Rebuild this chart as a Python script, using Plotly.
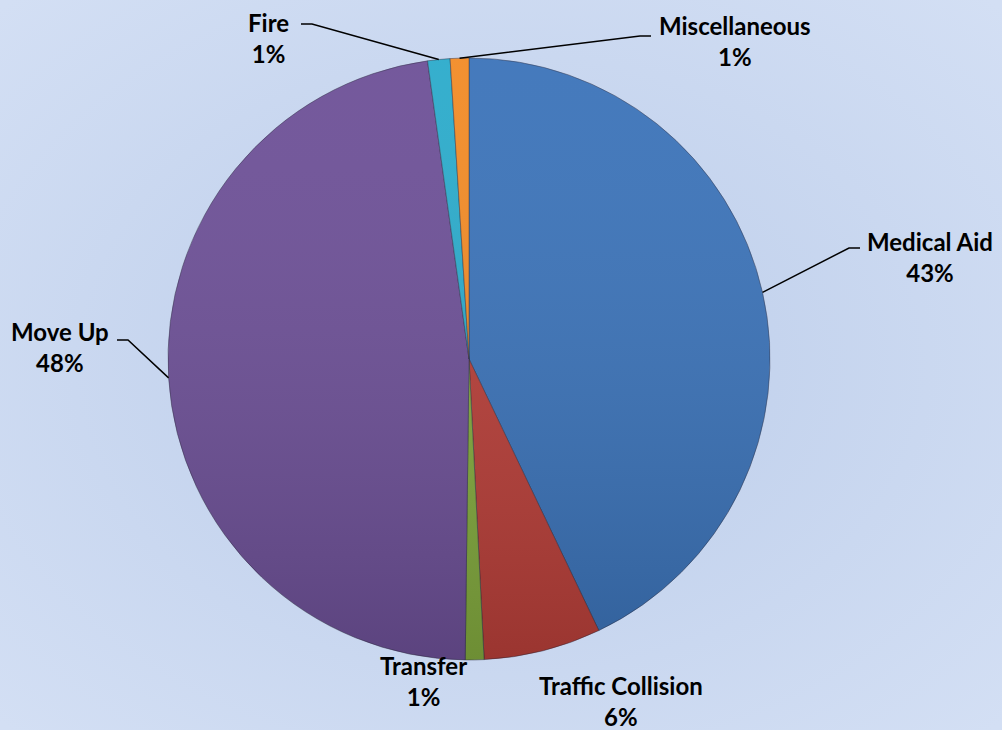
import math
import plotly.graph_objects as go

# Call types (clockwise from 12 o'clock)
labels = ['Medical Aid', 'Traffic Collision', 'Transfer', 'Move Up', 'Fire', 'Miscellaneous']
values = [42.9, 6.3, 1.0, 47.6, 1.2, 1.0]
colors = ['#3b73b9', '#b83f39', '#82a93e', '#6d5097', '#2babcb', '#f28b26']

W, H = 1002, 730
# pie placement in pixels
cx, cy, r = 469, 359, 301

# label placement in pixels, per slice
# (elbow_x, elbow_y, end_x, end_y, text_x, text_y) or None for no leader
label_pos = {
    'Medical Aid': (849, 248, 860, 248, 930, 257),
    'Traffic Collision': (None, None, None, None, 621, 701),
    'Transfer': (None, None, None, None, 423, 681),
    'Move Up': (128, 340, 117, 340, 60, 347),
    'Fire': (312, 24, 301, 24, 268, 38),
    'Miscellaneous': (640, 36, 651, 36, 735, 41),
}


def px(x):
    return x / W


def py(y):
    return 1 - y / H


# radial gradient background as inline svg
bg_svg = (
    "data:image/svg+xml;utf8,"
    "<svg xmlns='http://www.w3.org/2000/svg' width='1002' height='730'>"
    "<defs><radialGradient id='g' cx='50%' cy='50%' r='70%'>"
    "<stop offset='0%' stop-color='%23bccdea'/>"
    "<stop offset='100%' stop-color='%23d3dff4'/>"
    "</radialGradient></defs>"
    "<rect width='1002' height='730' fill='url(%23g)'/></svg>"
)

# soft top-to-bottom shading over the pie
shade_svg = (
    "data:image/svg+xml;utf8,"
    "<svg xmlns='http://www.w3.org/2000/svg' width='200' height='200'>"
    "<defs><linearGradient id='s' x1='0' y1='0' x2='0' y2='1'>"
    "<stop offset='0%' stop-color='white' stop-opacity='0.05'/>"
    "<stop offset='100%' stop-color='black' stop-opacity='0.16'/>"
    "</linearGradient></defs>"
    "<circle cx='100' cy='100' r='100' fill='url(%23s)'/></svg>"
)

fig = go.Figure()
fig.add_trace(go.Pie(
    labels=labels,
    values=values,
    sort=False,
    direction='clockwise',
    rotation=0,
    textinfo='none',
    hoverinfo='label+percent',
    marker=dict(colors=colors, line=dict(color='rgba(40,40,60,0.45)', width=1)),
    domain=dict(x=[px(cx - r), px(cx + r)], y=[py(cy + r), py(cy - r)]),
    showlegend=False,
))

# labels and leader lines, derived from slice angles
total = sum(values)
annotations = []
shapes = []
cum = 0
for lab, val in zip(labels, values):
    mid = (cum + val / 2) / total * 2 * math.pi
    cum += val
    pct = round(val / total * 100)
    ex = cx + r * math.sin(mid)
    ey = cy - r * math.cos(mid)
    elx, ely, enx, eny, tx, ty = label_pos[lab]
    if elx is not None:
        shapes.append(dict(
            type='path', xref='paper', yref='paper',
            path='M {} {} L {} {} L {} {}'.format(px(ex), py(ey), px(elx), py(ely), px(enx), py(eny)),
            line=dict(color='black', width=1.5),
        ))
    annotations.append(dict(
        x=px(tx), y=py(ty), xref='paper', yref='paper',
        text='<b>{}</b><br><b>{}%</b>'.format(lab, pct),
        showarrow=False, xanchor='center', yanchor='middle', align='center',
        font=dict(family='Lato, Open Sans, sans-serif', size=24, color='black'),
    ))

fig.update_layout(
    width=W, height=H,
    margin=dict(l=0, r=0, t=0, b=0),
    paper_bgcolor='#c8d6ee',
    plot_bgcolor='rgba(0,0,0,0)',
    images=[
        dict(source=bg_svg, xref='paper', yref='paper', x=0, y=1,
             sizex=1, sizey=1, sizing='stretch', layer='below'),
        dict(source=shade_svg, xref='paper', yref='paper', x=px(cx - r), y=py(cy - r),
             sizex=px(2 * r), sizey=2 * r / H, sizing='stretch', layer='above'),
    ],
    annotations=annotations,
    shapes=shapes,
)

fig.write_html("out.html", config={'displayModeBar': False},
               post_script="document.body.style.margin='0';")
